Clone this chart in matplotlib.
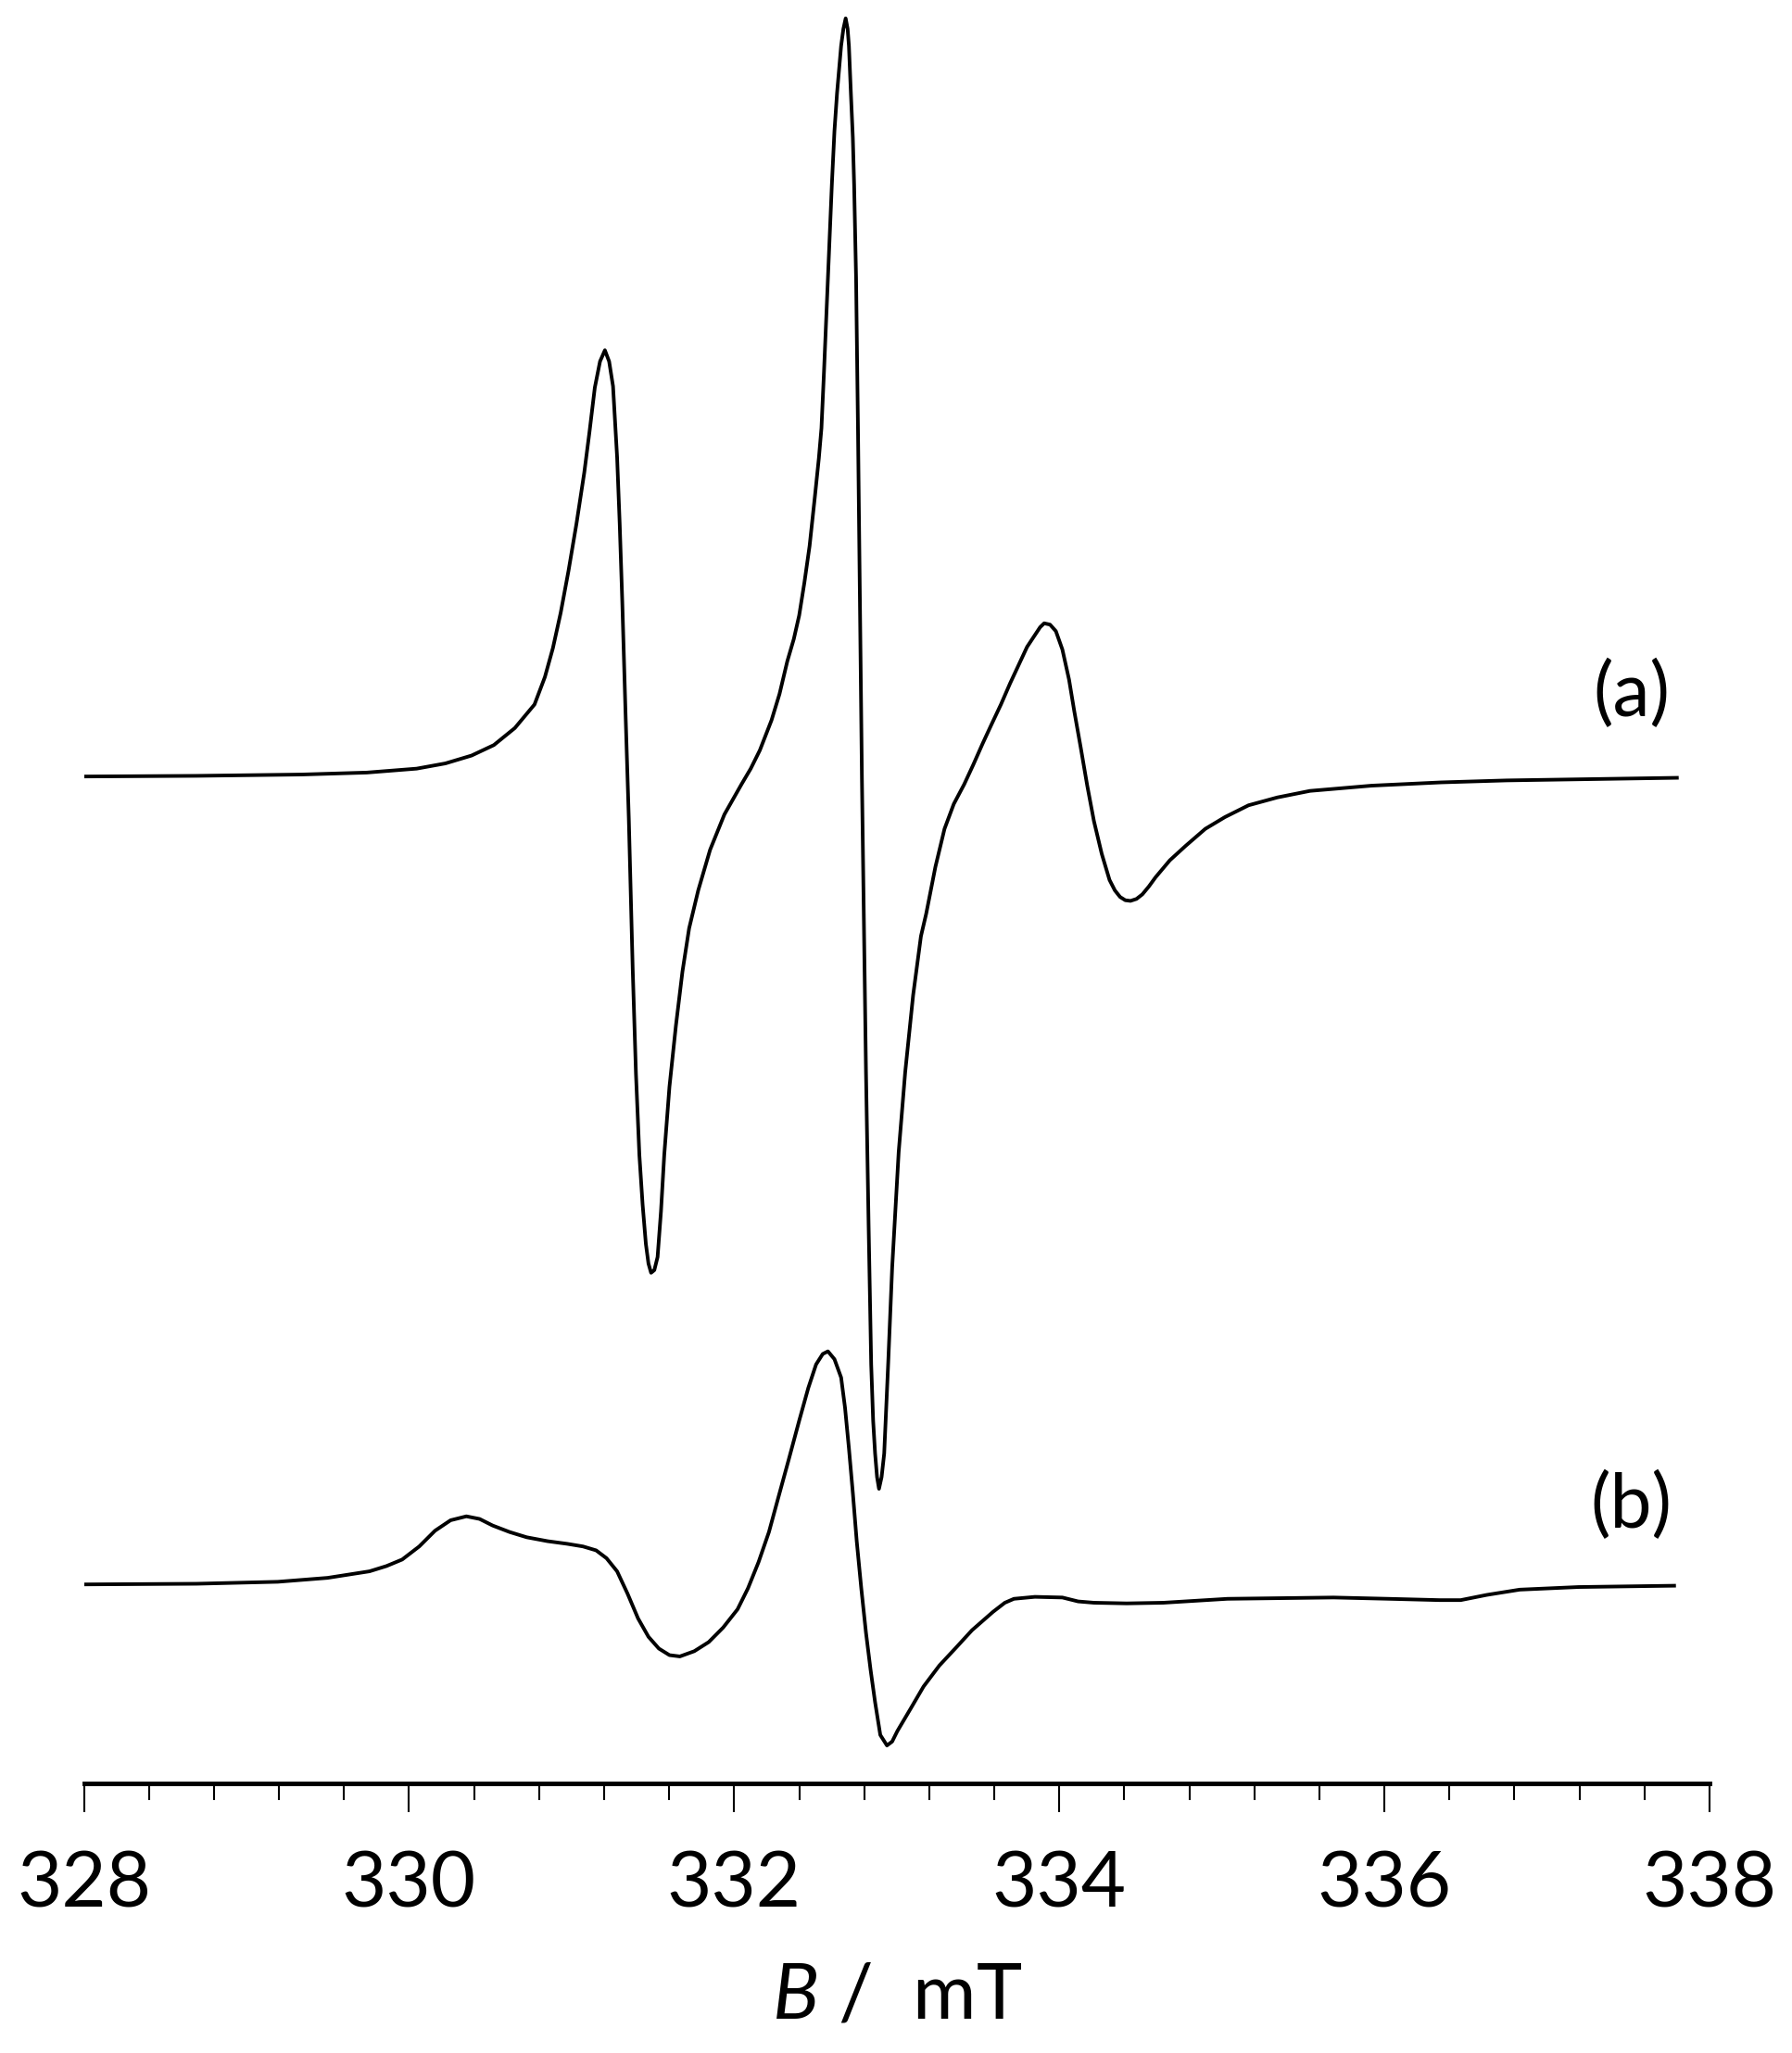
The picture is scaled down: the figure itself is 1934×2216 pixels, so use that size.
import matplotlib
matplotlib.use("Agg")
import matplotlib.pyplot as plt
from matplotlib.ticker import MultipleLocator

# field axis (mT) and first-derivative EPR signal, arbitrary units
field_a = [328.000, 328.693, 329.338, 329.741, 330.047, 330.224, 330.385, 330.522,
           330.651, 330.772, 330.836, 330.885, 330.933, 330.981, 331.030, 331.078,
           331.110, 331.143, 331.175, 331.205, 331.231, 331.255, 331.280, 331.296,
           331.312, 331.332, 331.352, 331.376, 331.396, 331.417, 331.437, 331.457,
           331.473, 331.489, 331.509, 331.529, 331.550, 331.570, 331.602, 331.642,
           331.682, 331.723, 331.779, 331.852, 331.940, 332.045, 332.102, 332.158,
           332.230, 332.279, 332.327, 332.367, 332.400, 332.432, 332.464, 332.496,
           332.521, 332.537, 332.553, 332.577, 332.601, 332.617, 332.633, 332.658,
           332.672, 332.686, 332.698, 332.706, 332.718, 332.730, 332.738, 332.750,
           332.762, 332.774, 332.786, 332.799, 332.811, 332.827, 332.843, 332.855,
           332.867, 332.879, 332.891, 332.907, 332.923, 332.948, 332.972, 333.012,
           333.052, 333.101, 333.149, 333.181, 333.238, 333.294, 333.351, 333.415,
           333.471, 333.528, 333.584, 333.641, 333.697, 333.753, 333.802, 333.850,
           333.882, 333.907, 333.943, 333.979, 334.019, 334.060, 334.092, 334.132,
           334.172, 334.213, 334.261, 334.309, 334.342, 334.374, 334.406, 334.438,
           334.475, 334.511, 334.551, 334.592, 334.680, 334.777, 334.898, 335.019,
           335.164, 335.341, 335.542, 335.921, 336.348, 336.751, 337.275, 337.799]
signal_a = [0, 0.5, 1.5, 3, 6, 10, 16, 24,
            37, 55, 76, 98, 125, 157, 193, 232,
            263, 297, 317, 325.5, 317, 298, 244, 193,
            133, 48, -32, -147, -227, -289, -327, -357,
            -372, -379, -377, -367, -332, -289, -237, -190,
            -149, -116, -87, -56, -29, -6, 6, 20,
            43, 63, 88, 105, 123, 148, 176, 213,
            243, 266, 310, 381, 452, 493, 522, 558,
            571, 579, 571, 558, 522, 488, 452, 381,
            263, 133, -2, -117, -226, -342, -449, -492,
            -517, -535, -544, -535, -517, -447, -375, -287,
            -226, -167, -122, -105, -69, -40, -21, -6,
            9, 25, 40, 55, 71, 86, 99, 108,
            114, 117, 116, 111, 97, 74, 50, 22,
            -7, -34, -59, -79, -87, -92, -94.5, -95,
            -93.5, -90, -84, -77, -64, -53, -40, -31,
            -22, -16, -11, -7, -4.5, -3, -2, -1]

field_b = [328.000, 328.693, 329.193, 329.499, 329.757, 329.861, 329.958, 330.063,
           330.160, 330.256, 330.353, 330.434, 330.514, 330.619, 330.724, 330.853,
           330.973, 331.070, 331.151, 331.215, 331.280, 331.344, 331.409, 331.473,
           331.537, 331.602, 331.666, 331.755, 331.844, 331.932, 332.021, 332.085,
           332.150, 332.214, 332.271, 332.335, 332.400, 332.456, 332.504, 332.545,
           332.577, 332.617, 332.658, 332.682, 332.706, 332.730, 332.754, 332.782,
           332.811, 332.839, 332.867, 332.899, 332.940, 332.972, 333.004, 333.085,
           333.165, 333.262, 333.367, 333.463, 333.592, 333.665, 333.721, 333.850,
           334.019, 334.116, 334.213, 334.414, 334.640, 335.035, 335.687, 336.026,
           336.340, 336.469, 336.630, 336.832, 337.194, 337.782]
signal_b = [0, 0.5, 2, 5, 10, 14, 19, 29,
            41, 49, 52, 50, 45, 40, 36, 33,
            31, 29, 26, 20, 10, -7, -26, -40,
            -49, -54, -55, -51, -44, -33, -19, -3,
            17, 40, 66, 95, 125, 150, 168, 176,
            178, 172, 158, 135, 104, 70, 33, -3,
            -37, -65, -90, -115, -123, -120, -112, -95,
            -78, -62, -48, -35, -21, -14, -11, -9.5,
            -10, -13, -14, -14.5, -14, -11, -10, -11,
            -12, -12, -8, -4, -2, -1]

trace_labels = ["(a)", "(b)"]
x_ticks = [328, 330, 332, 334, 336, 338]

plt.rcParams["font.family"] = ["Lato", "DejaVu Sans"]
plt.rcParams["mathtext.fontset"] = "custom"
plt.rcParams["mathtext.it"] = "Lato:italic"

fig = plt.figure(figsize=(19.34, 22.16), dpi=100)
ax = fig.add_axes([0.0468, 0.1313, 0.9072, 0.8687])

off_a, off_b = 769, 152
ax.plot(field_a, [v + off_a for v in signal_a], color="black", lw=2.8,
        solid_joinstyle="round")
ax.plot(field_b, [v + off_b for v in signal_b], color="black", lw=2.8,
        solid_joinstyle="round")

ax.text(337.52, 832, trace_labels[0], fontsize=58, ha="center", va="center")
ax.text(337.52, 212, trace_labels[1], fontsize=58, ha="center", va="center")

ax.set_xlim(328, 338)
ax.set_ylim(0, 1362)
for s in ["top", "left", "right"]:
    ax.spines[s].set_visible(False)
ax.spines["bottom"].set_linewidth(3.5)
ax.set_yticks([])
ax.set_xticks(x_ticks)
ax.xaxis.set_minor_locator(MultipleLocator(0.4))
ax.tick_params(axis="x", which="major", direction="out", length=22, width=1.5,
               labelsize=60, pad=30)
ax.tick_params(axis="x", which="minor", direction="out", length=13, width=1.5)
ax.set_xlabel(r"$B$ /  mT", fontsize=60, labelpad=32)

fig.savefig("out.png", dpi=100, facecolor="white")
